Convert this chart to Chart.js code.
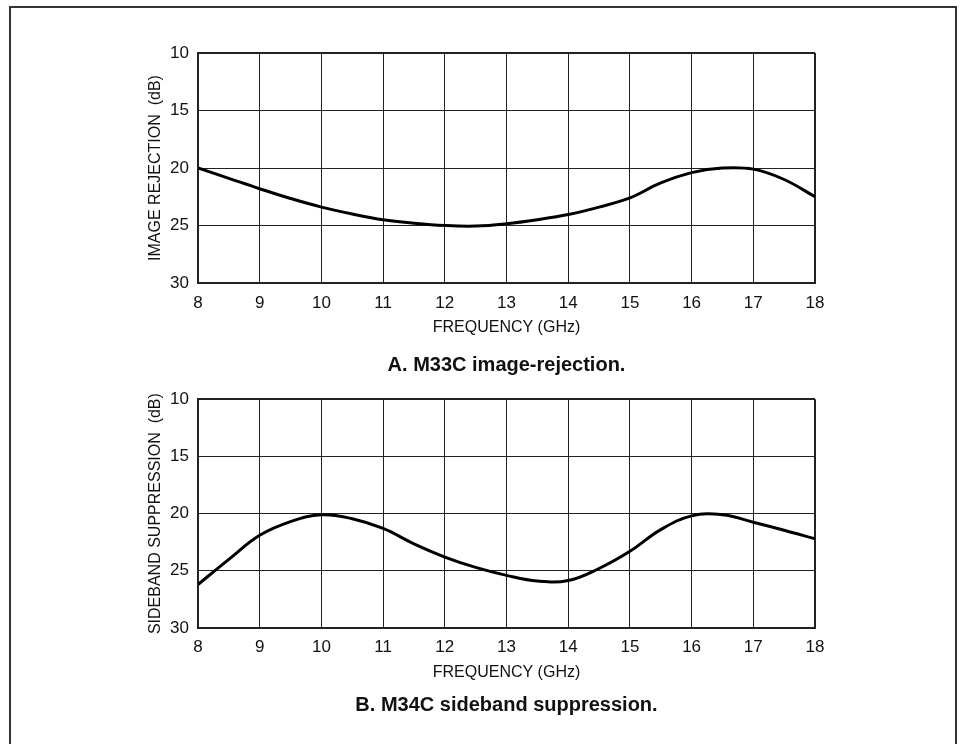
<!DOCTYPE html>
<html>
<head>
<meta charset="utf-8">
<script src="https://cdn.jsdelivr.net/npm/chart.js@4"></script>
<style>
  body { margin: 0; background: #fff; }
  #page { position: relative; width: 961px; height: 744px; overflow: hidden; background: #fff; }
  #frame { position: absolute; left: 9px; top: 6px; width: 944px; height: 760px; border: 2px solid #333; }
  .box { position: absolute; left: 0; width: 961px; }
  #boxA { top: 0; height: 380px; }
  #boxB { top: 380px; height: 364px; }
</style>
</head>
<body>
<div id="page">
  <div id="frame"></div>
  <div class="box" id="boxA"><canvas id="chartA"></canvas></div>
  <div class="box" id="boxB"><canvas id="chartB"></canvas></div>
</div>
<script>
// Data (frequency in GHz, level in dB)
const freqs = [8, 8.5, 9, 9.5, 10, 10.5, 11, 11.5, 12, 12.5, 13, 13.5, 14, 14.5, 15, 15.5, 16, 16.5, 17, 17.5, 18];
const imageRejection = [20.0, 20.9, 21.8, 22.65, 23.4, 24.0, 24.5, 24.8, 25.0, 25.05, 24.85, 24.5, 24.05, 23.4, 22.6, 21.3, 20.4, 20.0, 20.1, 21.0, 22.5];
const sidebandSuppression = [26.2, 24.0, 21.9, 20.7, 20.1, 20.45, 21.3, 22.65, 23.8, 24.7, 25.4, 25.9, 25.85, 24.8, 23.3, 21.4, 20.2, 20.1, 20.75, 21.45, 22.2];

const xTicks = [8, 9, 10, 11, 12, 13, 14, 15, 16, 17, 18];
const yTicks = [10, 15, 20, 25, 30];

const xTitle = 'FREQUENCY (GHz)';
const yTitleA = 'IMAGE REJECTION  (dB)';
const yTitleB = 'SIDEBAND SUPPRESSION  (dB)';
const captionA = 'A. M33C image-rejection.';
const captionB = 'B. M34C sideband suppression.';

const FONT = "'Liberation Sans', Arial, sans-serif";
const INK = '#111';

function makeChart(id, values, yTitle, caption, cfg) {
    return new Chart(document.getElementById(id), {
        type: 'line',
        data: {
            datasets: [{
                data: freqs.map((f, i) => ({x: f, y: values[i]})),
                borderColor: '#000',
                borderWidth: 3,
                pointRadius: 0,
                fill: false,
                tension: 0.4
            }]
        },
        options: {
            responsive: true,
            maintainAspectRatio: false,
            animation: false,
            layout: {
                padding: {top: cfg.padTop, left: 0, right: 146, bottom: 0}
            },
            plugins: {
                legend: {display: false},
                tooltip: {enabled: false},
                title: {
                    display: true,
                    text: caption,
                    position: 'bottom',
                    fullSize: false,
                    color: INK,
                    font: {family: FONT, size: 20, weight: 'bold', lineHeight: 1.2},
                    padding: {top: cfg.capTop, bottom: cfg.capBottom}
                }
            },
            scales: {
                x: {
                    type: 'linear',
                    min: 8,
                    max: 18,
                    afterBuildTicks: s => { s.ticks = xTicks.map(v => ({value: v})); },
                    afterFit: s => { s.height = 60; },
                    grid: {
                        color: '#222',
                        lineWidth: c => (c.index === xTicks.length - 1 ? 2 : 1),
                        drawTicks: false
                    },
                    border: {color: '#222', width: 2},
                    ticks: {color: INK, font: {family: FONT, size: 17}, padding: cfg.xTickPad, maxRotation: 0},
                    title: {
                        display: true,
                        text: xTitle,
                        color: INK,
                        font: {family: FONT, size: 16},
                        padding: {top: 0, bottom: 6}
                    }
                },
                y: {
                    type: 'linear',
                    reverse: true,
                    min: 10,
                    max: 30,
                    afterBuildTicks: s => { s.ticks = yTicks.map(v => ({value: v})); },
                    afterFit: s => { s.width = 198; },
                    grid: {
                        color: '#222',
                        lineWidth: c => (c.index === 0 ? 2 : 1),
                        drawTicks: false
                    },
                    border: {color: '#222', width: 2},
                    ticks: {color: INK, font: {family: FONT, size: 17}, padding: 9},
                    title: {
                        display: true,
                        text: yTitle,
                        color: INK,
                        font: {family: FONT, size: 16},
                        padding: {top: 146, bottom: 0}
                    }
                }
            }
        }
    });
}

makeChart('chartA', imageRejection, yTitleA, captionA, {padTop: 53, capTop: 10, capBottom: 3, xTickPad: 10});
makeChart('chartB', sidebandSuppression, yTitleB, captionB, {padTop: 17.5, capTop: 5, capBottom: 27, xTickPad: 9});
</script>
</body>
</html>
